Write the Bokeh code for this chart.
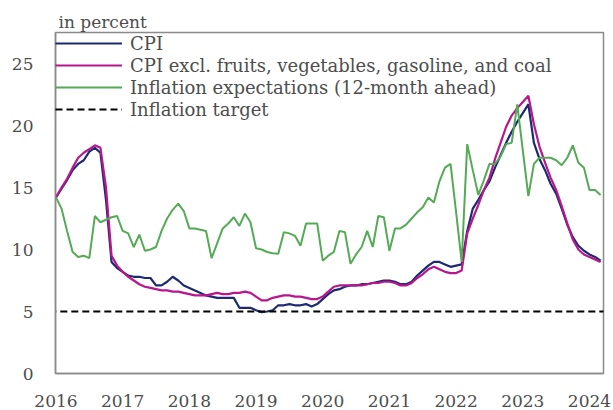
import numpy as np
from bokeh.plotting import figure
from bokeh.models import FixedTicker, Range1d, Legend, LegendItem
from bokeh.embed import file_html
from bokeh.resources import INLINE

# Monthly data, Jan 2016 .. Mar 2024
start_year = 2016
cpi = [14.2, 14.9, 15.6, 16.4, 16.9, 17.2, 17.9, 18.2, 17.8, 14.0,
       9.0, 8.5, 8.2, 7.9, 7.8, 7.8, 7.7, 7.7, 7.1, 7.1,
       7.4, 7.8, 7.5, 7.1, 6.9, 6.7, 6.5, 6.3, 6.2, 6.1,
       6.1, 6.1, 6.1, 5.3, 5.3, 5.3, 5.1, 4.95, 5.0, 5.1,
       5.5, 5.5, 5.6, 5.5, 5.5, 5.6, 5.4, 5.6, 6.0, 6.4,
       6.7, 6.8, 7.0, 7.1, 7.1, 7.2, 7.2, 7.3, 7.4, 7.5,
       7.5, 7.4, 7.2, 7.2, 7.4, 7.9, 8.3, 8.7, 9.0, 9.0,
       8.8, 8.6, 8.7, 8.8, 11.5, 13.3, 14.0, 14.8, 15.5, 16.6,
       17.6, 18.6, 19.5, 20.3, 21.0, 21.7, 18.6, 17.3, 16.4, 15.3,
       14.5, 13.3, 12.0, 11.0, 10.3, 9.9, 9.6, 9.4, 9.1]
core = [14.2, 15.0, 15.7, 16.6, 17.4, 17.8, 18.1, 18.4, 18.2, 15.0,
        9.5, 8.7, 8.2, 7.8, 7.5, 7.2, 7.0, 6.9, 6.8, 6.7,
        6.7, 6.6, 6.6, 6.5, 6.4, 6.3, 6.3, 6.3, 6.4, 6.5,
        6.4, 6.4, 6.5, 6.5, 6.6, 6.5, 6.2, 5.9, 5.9, 6.1,
        6.2, 6.3, 6.3, 6.2, 6.2, 6.1, 6.0, 6.0, 6.2, 6.6,
        7.0, 7.1, 7.1, 7.1, 7.1, 7.1, 7.2, 7.3, 7.3, 7.4,
        7.4, 7.3, 7.1, 7.1, 7.3, 7.7, 8.0, 8.4, 8.6, 8.4,
        8.2, 8.1, 8.1, 8.3, 11.3, 12.5, 13.6, 14.8, 15.8, 17.3,
        18.6, 19.9, 20.8, 21.4, 21.9, 22.4, 20.1, 18.3, 17.0, 15.8,
        14.8, 13.5, 12.1, 10.8, 10.0, 9.6, 9.4, 9.2, 9.0]
expectations = [14.2, 13.3, 11.5, 9.8, 9.4, 9.5, 9.3, 12.7, 12.2, 12.4,
                12.6, 12.7, 11.5, 11.3, 10.2, 11.2, 9.9, 10.0, 10.2, 11.5,
                12.5, 13.2, 13.7, 13.1, 11.7, 11.7, 11.6, 11.5, 9.3, 10.5,
                11.7, 12.1, 12.6, 11.9, 12.9, 12.2, 10.1, 10.0, 9.8, 9.7,
                9.65, 11.4, 11.3, 11.1, 10.3, 12.1, 12.1, 12.1, 9.1, 9.5,
                9.8, 11.5, 11.4, 8.85, 9.6, 10.2, 11.5, 10.2, 12.7, 12.6,
                9.9, 11.7, 11.7, 12.0, 12.5, 13.0, 13.4, 14.2, 13.8, 15.5,
                16.6, 16.9, 13.0, 9.0, 18.5, 16.4, 14.4, 15.6, 16.9, 16.9,
                17.5, 18.5, 18.6, 21.7, 18.0, 14.3, 16.9, 17.4, 17.4, 17.4,
                17.2, 16.8, 17.4, 18.4, 17.0, 16.6, 14.8, 14.8, 14.4]
target = 5
years = [2016, 2017, 2018, 2019, 2020, 2021, 2022, 2023, 2024]
legend_labels = ["CPI",
                 "CPI excl. fruits, vegetables, gasoline, and coal",
                 "Inflation expectations (12-month ahead)",
                 "Inflation target"]

x = [start_year + i / 12 for i in range(len(cpi))]

FONT = "DejaVu Serif"
TXT = "#4d4d4d"

p = figure(width=613, height=410, output_backend="svg", toolbar_location=None,
           x_range=Range1d(2015.993, 2024.21), y_range=Range1d(0, 27.5),
           min_border_left=55, min_border_right=10, min_border_top=32,
           min_border_bottom=37)
p.title.text = "in percent"
p.title.text_font = FONT
p.title.text_font_size = "17px"
p.title.text_font_style = "normal"
p.title.text_color = TXT
p.title.offset = 3
p.title.standoff = 2

p.grid.visible = False
p.outline_line_color = "#8a8a8a"
p.outline_line_width = 1.5
p.background_fill_color = "white"

for ax in (p.xaxis[0], p.yaxis[0]):
    ax.axis_line_color = "#8a8a8a"
    ax.axis_line_width = 1.5
    ax.major_tick_line_color = None
    ax.minor_tick_line_color = None
    ax.major_label_text_font = FONT
    ax.major_label_text_font_size = "17px"
    ax.major_label_text_color = TXT
p.yaxis.major_label_standoff = 16
p.xaxis.major_label_standoff = 15

p.xaxis.ticker = FixedTicker(ticks=years)
p.yaxis.ticker = FixedTicker(ticks=[0, 5, 10, 15, 20, 25])

r_cpi = p.line(x, cpi, line_color="#1b2a72", line_width=2.2)
r_core = p.line(x, core, line_color="#b8168c", line_width=2.2)
r_exp = p.line(x, expectations, line_color="#55aa55", line_width=2)
r_tgt = p.line([x[0] - 0.1, x[-1] + 0.2], [target, target], line_color="black",
               line_width=2, line_dash="7 4")

legend = Legend(items=[LegendItem(label=legend_labels[0], renderers=[r_cpi]),
                       LegendItem(label=legend_labels[1], renderers=[r_core]),
                       LegendItem(label=legend_labels[2], renderers=[r_exp]),
                       LegendItem(label=legend_labels[3], renderers=[r_tgt])],
                location="top_left")
legend.margin = 0
legend.padding = 4
legend.spacing = 0
legend.glyph_width = 67
legend.glyph_height = 22
legend.label_height = 22
legend.label_standoff = 8
legend.label_text_font = FONT
legend.label_text_font_size = "18px"
legend.label_text_color = TXT
legend.background_fill_alpha = 0
legend.border_line_color = None
p.add_layout(legend)

open("out.html", "w").write(file_html(p, INLINE))
